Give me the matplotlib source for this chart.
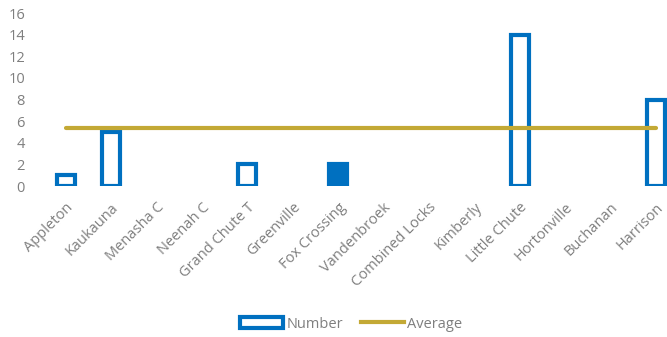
import matplotlib
matplotlib.use("Agg")
import matplotlib.pyplot as plt
from matplotlib.patches import Patch
from matplotlib.lines import Line2D

plt.rcParams['font.family'] = ['Open Sans', 'DejaVu Sans']

categories = ["Appleton", "Kaukauna", "Menasha C", "Neenah C", "Grand Chute T",
              "Greenville", "Fox Crossing", "Vandenbroek", "Combined Locks",
              "Kimberly", "Little Chute", "Hortonville", "Buchanan", "Harrison"]
numbers = [1, 5, 0, 0, 2, 0, 2, 0, 0, 0, 14, 0, 0, 8]
average = 5.33
filled = ["Fox Crossing"]
yticks = [0, 2, 4, 6, 8, 10, 12, 14, 16]

blue = "#0070C0"
gold = "#C3A935"
grey = "#7F7F7F"

W, H = 667, 337
fig = plt.figure(figsize=(W / 100, H / 100), dpi=100)
ax = fig.add_axes([43 / W, (H - 186) / H, (667 - 43) / W, (186 - 13) / H])

x = list(range(len(categories)))
for xi, cat, v in zip(x, categories, numbers):
    if v == 0:
        continue
    ax.bar(xi, v, width=0.4, facecolor=blue if cat in filled else "white",
           edgecolor=blue, linewidth=3.0, zorder=2)

ax.plot([x[0], x[-1]], [average, average], color=gold, linewidth=3.0,
        solid_capstyle="round", zorder=3)

ax.set_xlim(-0.5, 13.24)
ax.set_ylim(0, 16)
ax.set_yticks(yticks)
ax.set_xticks(x)
ax.set_xticklabels(categories, rotation=45, ha="right", rotation_mode="anchor",
                   color=grey, fontsize=10.5)
ax.tick_params(axis="y", labelcolor=grey, labelsize=10.5, length=0, pad=13)
ax.tick_params(axis="x", length=0, pad=10)
for s in ax.spines.values():
    s.set_visible(False)

handles = [Patch(facecolor="white", edgecolor=blue, linewidth=3, label="Number"),
           Line2D([0], [0], color=gold, linewidth=3, label="Average")]
fig.legend(handles=handles, loc="center", bbox_to_anchor=(351 / W, 1 - 324 / H),
           ncol=2, frameon=False, fontsize=10.5, labelcolor=grey,
           handlelength=3.0, handletextpad=0.2, columnspacing=1.2)

fig.savefig("out.png", dpi=100)
